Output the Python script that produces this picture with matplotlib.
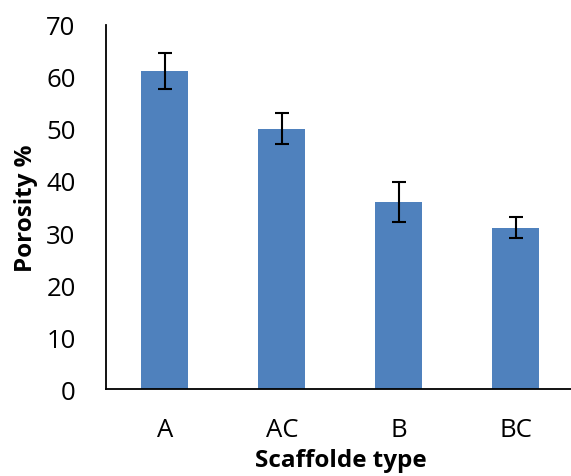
import matplotlib
matplotlib.use("Agg")
import matplotlib.pyplot as plt

# porosity per scaffold type
categories = ["A", "AC", "B", "BC"]
porosity = [61.1, 50.0, 36.0, 31.0]
porosity_err = [3.5, 3.0, 3.85, 2.05]

BAR_COLOR = "#4F81BD"

plt.rcParams["font.family"] = ["Open Sans", "DejaVu Sans"]

fig = plt.figure(figsize=(5.71, 4.77), dpi=100)
ax = fig.add_axes([0.186, 0.182, 0.82, 0.764])

x = range(len(categories))
ax.bar(list(x), porosity, width=0.4, color=BAR_COLOR, zorder=2)
ax.errorbar(list(x), porosity, yerr=porosity_err, fmt="none", ecolor="black",
            elinewidth=1.5, capsize=5, capthick=1.5, zorder=3)

ax.set_xlim(-0.5, 3.5)
ax.set_ylim(0, 70)
ax.set_yticks(range(0, 71, 10))
ax.set_xticks(list(x))
ax.set_xticklabels(categories)
ax.tick_params(axis="both", length=0, labelsize=18.5)
ax.tick_params(axis="x", pad=20)
ax.tick_params(axis="y", pad=22)

for side in ("top", "right"):
    ax.spines[side].set_visible(False)
for side in ("left", "bottom"):
    ax.spines[side].set_linewidth(1.3)

ax.set_xlabel("Scaffolde type", fontsize=17.5, fontweight="bold", labelpad=4)
ax.set_ylabel("Porosity %", fontsize=17.5, fontweight="bold", labelpad=6)

fig.savefig("out.png", dpi=100)
